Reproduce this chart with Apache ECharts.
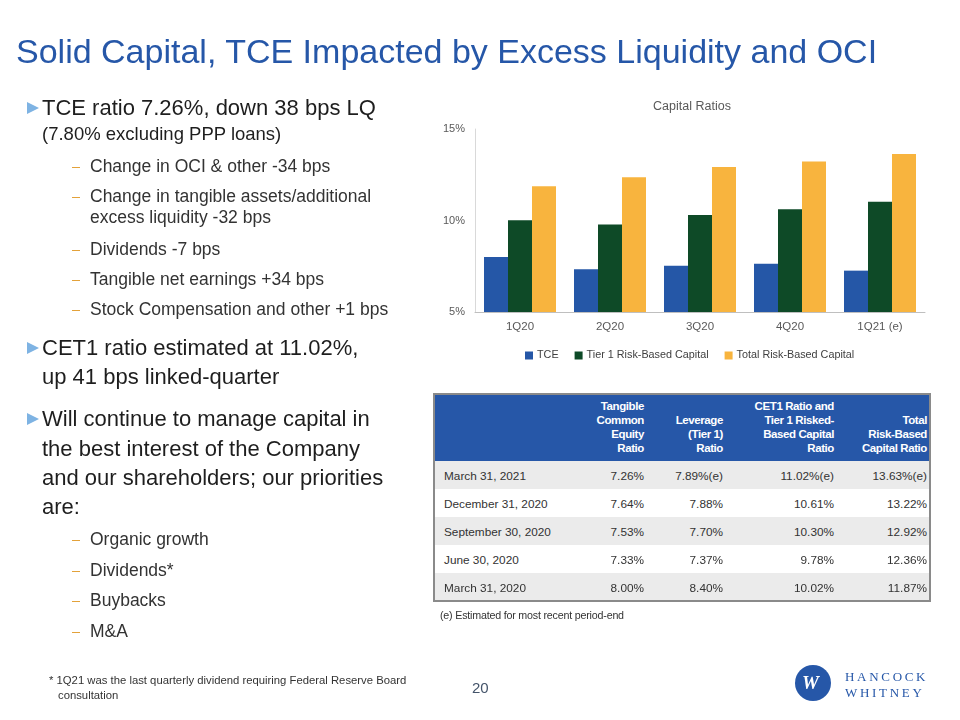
<!DOCTYPE html>
<html>
<head>
<meta charset="utf-8">
<script src="https://cdn.jsdelivr.net/npm/echarts@6/dist/echarts.min.js"></script>
<style>
  html, body { margin:0; padding:0; background:#fff; }
  #slide { position:relative; width:960px; height:720px; overflow:hidden; font-family:"Liberation Sans", Arial, sans-serif; }
  #chart { position:absolute; left:0; top:0; width:960px; height:720px; }
  .t { position:absolute; white-space:nowrap; }
  .lvl1 { font-size:22px; color:#1e1e1e; height:30px; line-height:30px; }
  .lvl2 { font-size:17.5px; color:#333; height:24px; line-height:24px; }
  .arrow { position:absolute; width:0; height:0; border-left:12px solid #7eb3e3; border-top:6px solid transparent; border-bottom:6px solid transparent; }
  .dash { position:absolute; width:8px; height:1px; background:#e3a23a; }
  .cell { position:absolute; white-space:nowrap; font-size:11.8px; color:#333; height:16px; line-height:16px; }
  .hcell { position:absolute; white-space:pre; font-size:11.5px; font-weight:bold; color:#fff; line-height:14px; text-align:right; letter-spacing:-0.4px; }
</style>
</head>
<body>
<div id="slide">
  <div id="chart"></div>
</div>
<script>
// ---- data ----
var quarters = ['1Q20', '2Q20', '3Q20', '4Q20', '1Q21 (e)'];
var periodEnds = ['March 31, 2020', 'June 30, 2020', 'September 30, 2020', 'December 31, 2020', 'March 31, 2021'];
var tceRatio = [8.00, 7.33, 7.53, 7.64, 7.26];
var leverageRatio = [8.40, 7.37, 7.70, 7.88, 7.89];
var tier1Ratio = [10.02, 9.78, 10.30, 10.61, 11.02];
var totalRatio = [11.87, 12.36, 12.92, 13.22, 13.63];
var estimatedLatest = [false, true, true, true]; // (e) flags for most recent row, per table column
var seriesNames = ['TCE', 'Tier 1 Risk-Based Capital', 'Total Risk-Based Capital'];
var yTicks = [5, 10, 15];

var slide = document.getElementById('slide');
function add(cls, text, left, top, extra) {
  var d = document.createElement('div');
  d.className = cls;
  d.textContent = text;
  d.style.left = left + 'px';
  d.style.top = top + 'px';
  if (extra) for (var k in extra) d.style[k] = extra[k];
  slide.appendChild(d);
  return d;
}

// ---- title ----
add('t', 'Solid Capital, TCE Impacted by Excess Liquidity and OCI', 16, 31,
  { fontSize: '34px', color: '#2657a8', lineHeight: '40px' });

// ---- bullets ----
function l1(text, cy, arrow) {
  if (arrow) add('arrow', '', 27, cy - 6);
  add('t lvl1', text, 42, cy - 15);
}
function l2(text, cy, dash) {
  if (dash) add('dash', '', 72, cy + 1);
  add('t lvl2', text, 90, cy - 12);
}
l1('TCE ratio 7.26%, down 38 bps LQ', 108, true);
add('t', '(7.80% excluding PPP loans)', 42, 121, { fontSize: '18.5px', color: '#1e1e1e', lineHeight: '26px' });
l2('Change in OCI & other -34 bps', 166, true);
l2('Change in tangible assets/additional', 196, true);
l2('excess liquidity -32 bps', 217, false);
l2('Dividends -7 bps', 249, true);
l2('Tangible net earnings +34 bps', 279, true);
l2('Stock Compensation and other +1 bps', 309, true);
l1('CET1 ratio estimated at 11.02%,', 348, true);
l1('up 41 bps linked-quarter', 377, false);
l1('Will continue to manage capital in', 419, true);
l1('the best interest of the Company', 449, false);
l1('and our shareholders; our priorities', 478, false);
l1('are:', 507, false);
l2('Organic growth', 539, true);
l2('Dividends*', 570, true);
l2('Buybacks', 600, true);
l2('M&A', 631, true);

// ---- footnote and page number ----
add('t', '* 1Q21 was the last quarterly dividend requiring Federal Reserve Board', 49, 673, { fontSize: '11.3px', color: '#333', lineHeight: '14px' });
add('t', 'consultation', 58, 688, { fontSize: '11.3px', color: '#333', lineHeight: '14px' });
add('t', '20', 472, 678, { fontSize: '15px', color: '#44546a', lineHeight: '20px' });

// ---- logo ----
add('t', '', 795, 665, { width: '36px', height: '36px', borderRadius: '50%', background: '#2657a8' });
add('t', 'W', 802, 671, { fontSize: '19px', fontFamily: '"Liberation Serif", serif', fontWeight: 'bold', fontStyle: 'italic', color: '#fff', lineHeight: '24px' });
add('t', 'HANCOCK', 845, 669, { fontSize: '13px', fontFamily: '"Liberation Serif", serif', color: '#2657a8', letterSpacing: '2.7px', lineHeight: '16px' });
add('t', 'WHITNEY', 845, 685, { fontSize: '13px', fontFamily: '"Liberation Serif", serif', color: '#2657a8', letterSpacing: '2.7px', lineHeight: '16px' });

// ---- table ----
add('t', '', 433, 393, { width: '498px', height: '209px', border: '2px solid #8a8a8a', boxSizing: 'border-box', background: '#fff' });
add('t', '', 435, 395, { width: '494px', height: '66px', background: '#2657a8' });
var colRights = [644, 723, 834, 927];
var headers = ['Tangible\nCommon\nEquity\nRatio', 'Leverage\n(Tier 1)\nRatio', 'CET1 Ratio and\nTier 1 Risked-\nBased Capital\nRatio', 'Total\nRisk-Based\nCapital Ratio'];
headers.forEach(function (h, i) {
  var n = h.split('\n').length;
  var d = add('hcell', h, 0, 455 - n * 14);
  d.style.right = (960 - colRights[i]) + 'px';
  d.style.left = 'auto';
});
var rowTop = 461, rowH = 28;
for (var r = 0; r < 5; r++) {
  var idx = 4 - r;
  var y = rowTop + r * rowH;
  if (r % 2 === 0) add('t', '', 435, y, { width: '494px', height: (r === 4 ? 139 - 4 * rowH : rowH) + 'px', background: '#ebebeb' });
  add('cell', periodEnds[idx], 444, y + rowH / 2 - 7);
  var vals = [tceRatio[idx], leverageRatio[idx], tier1Ratio[idx], totalRatio[idx]];
  vals.forEach(function (v, c) {
    var s = v.toFixed(2) + '%' + (idx === 4 && estimatedLatest[c] ? '(e)' : '');
    var d = add('cell', s, 0, y + rowH / 2 - 7);
    d.style.left = 'auto';
    d.style.right = (960 - colRights[c]) + 'px';
  });
}
add('t', '(e) Estimated for most recent period-end', 440, 607, { fontSize: '10.7px', color: '#333', lineHeight: '16px', letterSpacing: '-0.2px' });

// ---- chart ----
var chart = echarts.init(document.getElementById('chart'), null, { renderer: 'canvas' });
var colors = ['#2557a7', '#0e4a27', '#f8b43e'];
var dataSets = [tceRatio, tier1Ratio, totalRatio];
chart.setOption({
  animation: false,
  title: {
    text: 'Capital Ratios', left: 687, top: 95, textAlign: 'center',
    textStyle: { fontSize: 12.5, fontWeight: 'normal', color: '#595959', fontFamily: 'Liberation Sans' }
  },
  legend: {
    top: 345, left: 520, itemWidth: 8, itemHeight: 8, itemGap: 16,
    icon: 'rect',
    textStyle: { fontSize: 10.8, color: '#404040', fontFamily: 'Liberation Sans', padding: [0, 0, 0, -1] },
    data: seriesNames
  },
  grid: { left: 475, right: 35, top: 129, bottom: 408, containLabel: false },
  xAxis: {
    type: 'category', data: quarters,
    axisLine: { lineStyle: { color: '#bfbfbf' } },
    axisTick: { show: false },
    axisLabel: { fontSize: 11.5, color: '#595959', margin: 9, fontFamily: 'Liberation Sans' }
  },
  yAxis: {
    type: 'value', min: yTicks[0], max: yTicks[yTicks.length - 1], interval: 5,
    axisLine: { show: true, lineStyle: { color: '#d9d9d9' } },
    axisTick: { show: false },
    splitLine: { show: false },
    axisLabel: { formatter: '{value}%', fontSize: 11, color: '#595959', margin: 10, fontFamily: 'Liberation Sans' }
  },
  series: seriesNames.map(function (n, i) {
    return {
      name: n, type: 'bar', data: dataSets[i], barGap: '0%', barCategoryGap: '20%',
      itemStyle: { color: colors[i] }
    };
  })
});
</script>
</body>
</html>
